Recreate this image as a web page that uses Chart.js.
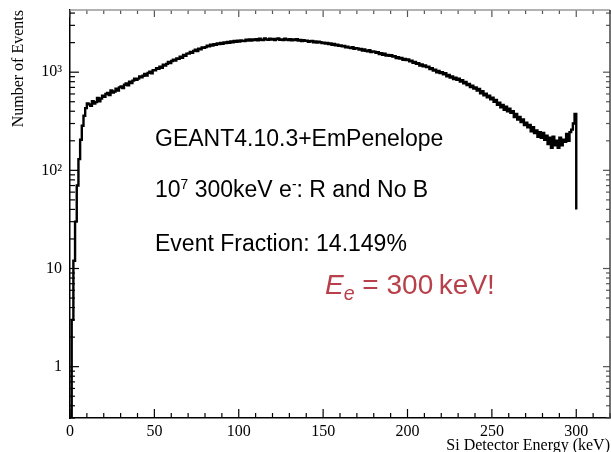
<!DOCTYPE html>
<html>
<head>
<meta charset="utf-8">
<script src="https://cdn.jsdelivr.net/npm/chart.js@4.4.0/dist/chart.umd.min.js"></script>
<style>
  body { margin: 0; background: #fff; }
  #wrap { position: relative; width: 611px; height: 452px; overflow: hidden; }
  .note { position: absolute; font-family: "Liberation Sans", Arial, sans-serif; font-size: 23px; line-height: 1; color: #000; white-space: nowrap; }
  .note sup { font-size: 0.6em; line-height: 0; vertical-align: 0.6em; }
  #ee { color: #b8404a; font-size: 28px; }
  #ee sub { font-size: 0.7em; line-height: 0; vertical-align: -0.3em; font-style: italic; }
</style>
</head>
<body>
<div id="wrap">
  <canvas id="chart" width="611" height="452"></canvas>
  <div class="note" style="left:155px;top:127px">GEANT4.10.3+EmPenelope</div>
  <div class="note" style="left:155px;top:178px">10<sup>7</sup> 300keV e<sup>-</sup>: R and No B</div>
  <div class="note" style="left:155px;top:232px">Event Fraction: 14.149%</div>
  <div class="note" id="ee" style="left:325px;top:271px"><i>E</i><sub>e</sub> = 300&#8201;keV!</div>
</div>
<script>
// histogram: 1 keV bins starting at 0 keV
const binStart = 0;
const binWidth = 1;
const counts = [
  0.3, 3, 12, 30, 70, 130, 205, 285, 360, 430,
  480, 470, 455, 505, 480, 495, 545, 505, 540, 575,
  560, 600, 615, 585, 650, 620, 635, 680, 650, 700,
  715, 690, 745, 770, 735, 800, 775, 820, 860, 835,
  860, 905, 885, 920, 960, 925, 985, 1010, 975, 1050,
  1045, 1100, 1085, 1140, 1110, 1190, 1165, 1215, 1270, 1240,
  1300, 1340, 1310, 1380, 1365, 1440, 1405, 1500, 1470, 1545,
  1550, 1610, 1580, 1650, 1690, 1640, 1735, 1710, 1785, 1770,
  1800, 1860, 1835, 1905, 1870, 1925, 1900, 1960, 1940, 1980,
  1945, 2005, 1985, 2030, 1990, 2060, 2020, 2075, 2040, 2090,
  2050, 2110, 2085, 2070, 2140, 2105, 2160, 2095, 2150, 2130,
  2170, 2115, 2190, 2140, 2120, 2200, 2160, 2135, 2195, 2150,
  2185, 2130, 2175, 2205, 2140, 2160, 2120, 2190, 2150, 2130,
  2165, 2110, 2150, 2125, 2170, 2095, 2135, 2080, 2115, 2090,
  2095, 2040, 2065, 2085, 2020, 2055, 2000, 2040, 2015, 1980,
  2000, 1955, 1985, 1930, 1960, 1905, 1935, 1880, 1910, 1860,
  1875, 1830, 1850, 1790, 1820, 1780, 1760, 1800, 1735, 1755,
  1750, 1700, 1720, 1665, 1700, 1655, 1630, 1670, 1600, 1625,
  1620, 1575, 1595, 1530, 1560, 1505, 1540, 1480, 1500, 1470,
  1490, 1440, 1455, 1395, 1425, 1375, 1400, 1340, 1365, 1330,
  1345, 1290, 1310, 1245, 1275, 1215, 1235, 1170, 1200, 1150,
  1170, 1125, 1140, 1075, 1100, 1040, 1060, 1000, 1030, 980,
  1000, 950, 975, 910, 935, 880, 905, 850, 880, 835,
  860, 805, 830, 770, 795, 740, 760, 705, 730, 680,
  700, 650, 675, 610, 640, 580, 605, 555, 575, 530,
  550, 500, 520, 465, 490, 440, 465, 415, 445, 400,
  425, 385, 400, 350, 375, 330, 350, 310, 330, 290,
  305, 275, 290, 250, 275, 240, 255, 220, 245, 215,
  240, 205, 225, 185, 215, 170, 220, 180, 200, 170,
  215, 180, 205, 195, 235, 200, 245, 260, 300, 375,
  40
];
const energies = counts.map((c, i) => binStart + i * binWidth);

const xTickValues = [0, 50, 100, 150, 200, 250, 300];
const xTickLabels = ["0", "50", "100", "150", "200", "250", "300"];
const yTickValues = [1, 10, 100, 1000];
const yTickLabels = ["1", "10", "10\u00B2", "10\u00B3"];

const X_MIN = 0, X_MAX = 320;
const Y_MIN = 0.3, Y_MAX = 4300;

// ROOT style frame: inward ticks on all four sides
const frameTicks = {
  id: "frameTicks",
  afterDatasetsDraw(chart) {
    const { ctx, chartArea: a, scales: { x, y } } = chart;
    const seg = (x1, y1, x2, y2) => { ctx.beginPath(); ctx.moveTo(x1, y1); ctx.lineTo(x2, y2); ctx.stroke(); };
    ctx.save();
    ctx.lineWidth = 1.2;
    x.ticks.forEach(t => {
      const px = x.getPixelForValue(t.value);
      const major = xTickValues.includes(t.value);
      ctx.strokeStyle = "#000";
      seg(px, a.bottom, px, a.bottom - (major ? 9 : 5));
      ctx.strokeStyle = "#555";
      seg(px, a.top, px, a.top + (major ? 7 : 4));
    });
    y.ticks.forEach(t => {
      if (t.value < Y_MIN || t.value > Y_MAX) return;
      const py = y.getPixelForValue(t.value);
      const major = yTickValues.includes(t.value);
      ctx.strokeStyle = "#000";
      seg(a.left, py, a.left + (major ? 9 : 5), py);
      ctx.strokeStyle = "#555";
      seg(a.right, py, a.right - (major ? 7 : 4), py);
    });
    ctx.lineWidth = 1.5;
    ctx.strokeStyle = "#999";
    seg(a.left, a.top, a.right, a.top);
    ctx.strokeStyle = "#444";
    seg(a.right, a.top, a.right, a.bottom);
    ctx.restore();
  }
};

Chart.defaults.font.family = "'Liberation Serif', 'Times New Roman', serif";
Chart.defaults.color = "#000";

new Chart(document.getElementById("chart"), {
  type: "line",
  data: {
    datasets: [{
      data: counts.map((c, i) => ({ x: energies[i], y: c })),
      borderColor: "#000",
      borderWidth: 2.4,
      pointRadius: 0,
      stepped: "before",
      fill: false
    }]
  },
  options: {
    responsive: false,
    animation: false,
    layout: { padding: { top: 10, right: 1, left: 0, bottom: 0 } },
    plugins: { legend: { display: false }, tooltip: { enabled: false } },
    scales: {
      x: {
        type: "linear",
        min: X_MIN,
        max: X_MAX,
        grid: { display: false, drawTicks: false },
        border: { display: true, color: "#000", width: 1.5 },
        ticks: {
          stepSize: 10,
          autoSkip: false,
          maxRotation: 0,
          padding: 4,
          font: { size: 16 },
          callback: (v) => {
            const i = xTickValues.indexOf(v);
            return i >= 0 ? xTickLabels[i] : "";
          }
        },
        title: {
          display: true,
          text: "Si Detector Energy (keV)",
          align: "end",
          font: { size: 16 },
          padding: { top: 0, bottom: -3 }
        },
        afterFit: (s) => { s.height = 34; s.paddingLeft = 0; s.paddingRight = 0; }
      },
      y: {
        type: "logarithmic",
        min: Y_MIN,
        max: Y_MAX,
        grid: { display: false, drawTicks: false },
        border: { display: true, color: "#000", width: 1.5 },
        afterBuildTicks: (s) => {
          const list = [];
          for (let d = 0.1; d < Y_MAX; d *= 10) {
            for (let m = 1; m <= 9; m++) {
              const v = Math.round(m * d * 1000) / 1000;
              if (v >= Y_MIN && v <= Y_MAX) list.push({ value: v });
            }
          }
          s.ticks = list;
        },
        ticks: {
          autoSkip: false,
          padding: 8,
          font: { size: 16 },
          callback: (v) => {
            const i = yTickValues.indexOf(v);
            return i >= 0 ? yTickLabels[i] : "";
          }
        },
        title: {
          display: true,
          text: "Number of Events",
          align: "end",
          font: { size: 16 },
          padding: { top: 9 }
        },
        afterFit: (s) => { s.width = 70; s.paddingTop = 0; s.paddingBottom = 0; }
      }
    }
  },
  plugins: [frameTicks]
});
</script>
</body>
</html>
